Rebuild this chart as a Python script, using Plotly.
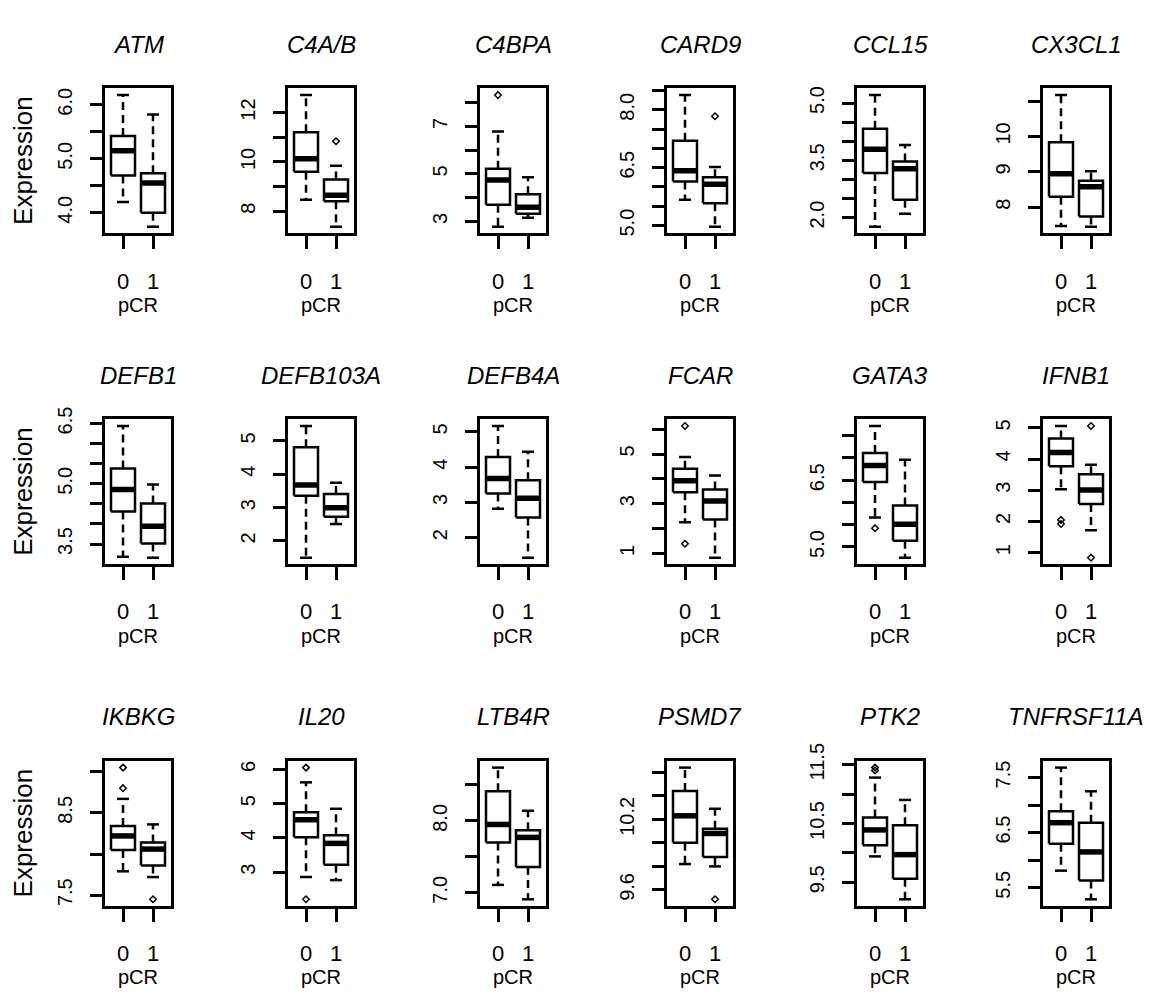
import plotly.graph_objects as go

# ---------------- data ----------------
genes = ["ATM", "C4A/B", "C4BPA", "CARD9", "CCL15", "CX3CL1",
         "DEFB1", "DEFB103A", "DEFB4A", "FCAR", "GATA3", "IFNB1",
         "IKBKG", "IL20", "LTB4R", "PSMD7", "PTK2", "TNFRSF11A"]
groups = ["0", "1"]

# pCR = 0
lo0 = [4.20, 8.47, 2.77, 5.67, 1.76, 7.47, 3.18, 1.50, 2.82, 2.25, 5.66, 3.03, 7.79, 2.86, 7.11, 9.82, 9.94, 5.81]
q1_0 = [4.69, 9.60, 3.70, 6.14, 3.17, 8.30, 4.31, 3.36, 3.25, 3.46, 6.46, 3.77, 8.05, 4.02, 7.70, 10.00, 10.13, 6.30]
med0 = [5.15, 10.13, 4.74, 6.42, 3.79, 8.95, 4.86, 3.68, 3.68, 3.92, 6.83, 4.21, 8.22, 4.53, 7.95, 10.23, 10.39, 6.68]
q3_0 = [5.42, 11.20, 5.21, 7.20, 4.33, 9.84, 5.38, 4.81, 4.29, 4.41, 7.11, 4.66, 8.34, 4.75, 8.41, 10.44, 10.60, 6.89]
hi0 = [6.18, 12.71, 6.79, 8.38, 5.21, 11.17, 6.44, 5.45, 5.17, 4.88, 7.72, 5.06, 8.67, 5.62, 8.74, 10.64, 11.28, 7.68]
out0 = [[], [], [8.32], [], [], [], [], [], [], [6.13, 1.39], [5.42], [2.05, 1.92],
        [9.05, 8.80], [6.05, 2.21], [], [], [11.45, 11.40], []]

# pCR = 1
lo1 = [3.74, 7.37, 3.15, 4.97, 2.10, 7.45, 3.16, 2.51, 1.43, 0.83, 4.76, 1.72, 7.72, 2.77, 6.91, 9.80, 9.21, 5.29]
q1_1 = [4.00, 8.40, 3.32, 5.58, 2.47, 7.74, 3.51, 2.73, 2.57, 2.37, 5.14, 2.56, 7.86, 3.22, 7.36, 9.88, 9.56, 5.63]
med1 = [4.55, 8.65, 3.59, 6.07, 3.28, 8.58, 3.94, 3.00, 3.12, 3.11, 5.51, 3.01, 8.06, 3.84, 7.77, 10.08, 9.97, 6.15]
q3_1 = [4.73, 9.29, 4.14, 6.25, 3.47, 8.75, 4.51, 3.41, 3.63, 3.57, 5.93, 3.51, 8.14, 4.08, 7.87, 10.12, 10.47, 6.68]
hi1 = [5.82, 9.84, 4.86, 6.52, 3.90, 9.02, 4.98, 3.75, 4.44, 4.14, 6.96, 3.82, 8.36, 4.85, 8.14, 10.29, 10.90, 7.25]
out1 = [[], [10.84], [], [7.83], [], [], [], [], [], [], [], [5.06, 0.84],
        [7.45], [], [], [9.52], [], []]

# y-axis ticks and their labels ("" = unlabeled tick)
tick_vals = [
    [4.0, 4.5, 5.0, 5.5, 6.0], [8, 9, 10, 11, 12], [3, 4, 5, 6, 7, 8],
    [5.0, 5.5, 6.0, 6.5, 7.0, 7.5, 8.0, 8.5], [2.0, 2.5, 3.0, 3.5, 4.0, 4.5, 5.0], [8, 9, 10, 11],
    [3.5, 4.0, 4.5, 5.0, 5.5, 6.0, 6.5], [2, 3, 4, 5], [2, 3, 4, 5],
    [1, 2, 3, 4, 5, 6], [5.0, 5.5, 6.0, 6.5, 7.0, 7.5], [1, 2, 3, 4, 5],
    [7.5, 8.0, 8.5, 9.0], [3, 4, 5, 6], [7.0, 7.5, 8.0, 8.5],
    [9.6, 9.8, 10.0, 10.2, 10.4, 10.6], [9.5, 10.0, 10.5, 11.0, 11.5], [5.5, 6.0, 6.5, 7.0, 7.5],
]
tick_text = [
    ["4.0", "", "5.0", "", "6.0"], ["8", "", "10", "", "12"], ["3", "", "5", "", "7", ""],
    ["5.0", "", "", "6.5", "", "", "8.0", ""], ["2.0", "", "", "3.5", "", "", "5.0"], ["8", "9", "10", ""],
    ["3.5", "", "", "5.0", "", "", "6.5"], ["2", "3", "4", "5"], ["2", "3", "4", "5"],
    ["1", "", "3", "", "5", ""], ["5.0", "", "", "6.5", "", ""], ["1", "2", "3", "4", "5"],
    ["7.5", "", "8.5", ""], ["3", "4", "5", "6"], ["7.0", "", "8.0", ""],
    ["9.6", "", "", "10.2", "", ""], ["9.5", "", "10.5", "", "11.5"], ["5.5", "", "6.5", "", "7.5"],
]

# ---------------- layout geometry (pixels) ----------------
W, H = 1149, 997
col_left = [105, 288, 480, 667, 857, 1043]
row_top = [72, 410, 759]
pw, ph = 66, 148
FONT = "Liberation Sans, Arial, sans-serif"
HALF = 0.4      # box half width
STAP = 0.2      # staple half width
LW = 2.5

fig = go.Figure()
layout = dict(width=W, height=H, margin=dict(l=0, r=0, t=0, b=0),
              paper_bgcolor="white", plot_bgcolor="white", showlegend=False,
              font=dict(family=FONT, color="black"))
annotations = []


def nx(px):
    return px / W


def ny(py):
    return 1 - py / H


for i, g in enumerate(genes):
    r, c = divmod(i, 6)
    xa = "x" if i == 0 else f"x{i+1}"
    ya = "y" if i == 0 else f"y{i+1}"
    stats = [(lo0[i], q1_0[i], med0[i], q3_0[i], hi0[i], out0[i]),
             (lo1[i], q1_1[i], med1[i], q3_1[i], hi1[i], out1[i])]
    bx, by, mx, my, wx, wy, sx, sy, ox, oy = [], [], [], [], [], [], [], [], [], []
    for k, (lo, q1, md, q3, hi, outs) in enumerate(stats):
        cx = k + 1
        bx += [cx - HALF, cx + HALF, cx + HALF, cx - HALF, cx - HALF, None]
        by += [q1, q1, q3, q3, q1, None]
        mx += [cx - HALF, cx + HALF, None]
        my += [md, md, None]
        wx += [cx, cx, None, cx, cx, None]
        wy += [q3, hi, None, q1, lo, None]
        sx += [cx - STAP, cx + STAP, None, cx - STAP, cx + STAP, None]
        sy += [hi, hi, None, lo, lo, None]
        ox += [cx] * len(outs)
        oy += list(outs)
    common = dict(xaxis=xa, yaxis=ya, hoverinfo="skip", showlegend=False)
    fig.add_trace(go.Scatter(x=wx, y=wy, mode="lines",
                             line=dict(color="black", width=LW, dash="8px,5px"), **common))
    fig.add_trace(go.Scatter(x=sx, y=sy, mode="lines",
                             line=dict(color="black", width=LW), **common))
    fig.add_trace(go.Scatter(x=bx, y=by, mode="lines", fill="toself", fillcolor="white",
                             line=dict(color="black", width=LW), **common))
    fig.add_trace(go.Scatter(x=mx, y=my, mode="lines",
                             line=dict(color="black", width=5.5), **common))
    if ox:
        fig.add_trace(go.Scatter(x=ox, y=oy, mode="markers",
                                 marker=dict(symbol="diamond-open", size=5, color="black",
                                             line=dict(width=1.5, color="black")), **common))

    allv = [lo0[i], hi0[i], lo1[i], hi1[i]] + out0[i] + out1[i]
    vmin, vmax = min(allv), max(allv)
    pad = 0.05 * (vmax - vmin)

    x0p = col_left[c]
    y0p = row_top[r]
    key = "" if i == 0 else str(i + 1)
    layout["xaxis" + key] = dict(
        domain=[nx(x0p), nx(x0p + pw)], anchor=ya, range=[0.4, 2.6],
        tickvals=[1, 2], ticktext=groups, ticks="outside", ticklen=13, tickwidth=LW,
        tickcolor="black", showline=True, linewidth=LW, linecolor="black", mirror=True,
        showgrid=False, zeroline=False, fixedrange=True, ticklabelstandoff=13,
        tickfont=dict(size=22, family=FONT, color="black"))
    layout["yaxis" + key] = dict(
        domain=[ny(y0p + ph), ny(y0p)], anchor=xa, range=[vmin - pad, vmax + pad],
        tickvals=tick_vals[i], ticktext=tick_text[i], ticks="outside", ticklen=12,
        tickwidth=LW, tickcolor="black", showline=True, linewidth=LW, linecolor="black",
        mirror=True, showgrid=False, zeroline=False, fixedrange=True, tickangle=-90,
        ticklabelstandoff=10, tickfont=dict(size=20, family=FONT, color="black"))

    annotations.append(dict(text=f"<i>{g}</i>", x=nx(x0p + pw / 2), y=ny(y0p - 45),
                            xref="paper", yref="paper", showarrow=False,
                            xanchor="center", yanchor="middle",
                            font=dict(size=24, family=FONT, color="black")))
    annotations.append(dict(text="pCR", x=nx(x0p + pw / 2), y=ny(y0p + ph + 73),
                            xref="paper", yref="paper", showarrow=False,
                            xanchor="center", yanchor="middle",
                            font=dict(size=20, family=FONT, color="black")))
    if c == 0:
        annotations.append(dict(text="Expression", x=nx(23), y=ny(y0p + ph / 2),
                                xref="paper", yref="paper", showarrow=False, textangle=-90,
                                xanchor="center", yanchor="middle",
                                font=dict(size=26, family=FONT, color="black")))

layout["annotations"] = annotations
fig.update_layout(**layout)
fig.write_html("out.html", config={"displayModeBar": False},
               post_script="document.body.style.margin='0';document.body.style.overflow='hidden';")
